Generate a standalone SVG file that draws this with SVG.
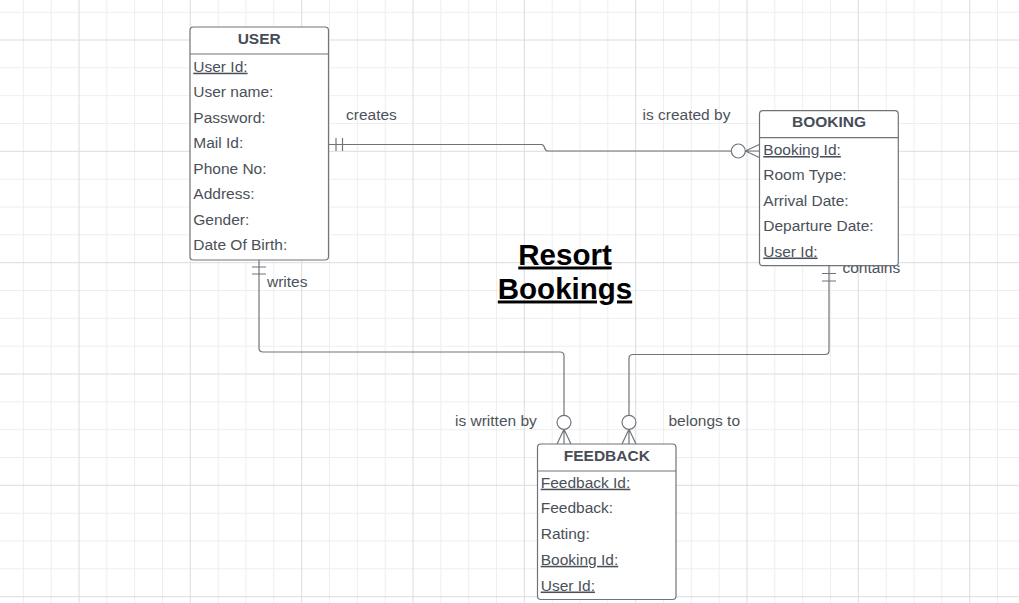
<svg xmlns="http://www.w3.org/2000/svg" width="1019" height="603" viewBox="0 0 1019 603">
<defs>
<style>
.minor{stroke:#eeeeee;stroke-width:1;fill:none}
.major{stroke:#dcdcdc;stroke-width:1;fill:none}
.box{fill:#ffffff;stroke:#6f747b;stroke-width:1.2}
.sep{stroke:#6f747b;stroke-width:1.2}
.hdr{font-family:"Liberation Sans",Arial,sans-serif;font-size:15.5px;font-weight:bold;fill:#474d56;text-anchor:middle}
.att{font-family:"Liberation Sans",Arial,sans-serif;font-size:15.5px;fill:#4a5059}
.key{text-decoration:underline}
.lbl{font-family:"Liberation Sans",Arial,sans-serif;font-size:15.5px;fill:#4d535b}
.ln{fill:none;stroke:#6f747b;stroke-width:1.2}
.crc{fill:#ffffff;stroke:#6f747b;stroke-width:1.2}
.title{font-family:"Liberation Sans",Arial,sans-serif;font-size:29.5px;font-weight:bold;fill:#000000;text-anchor:middle;text-decoration:underline}
</style>
</defs>
<rect width="1019" height="603" fill="#ffffff"/>
<g id="grid">
<path class="minor" d="M23.3 0V603M51.2 0V603M106.8 0V603M134.7 0V603M162.5 0V603M218.2 0V603M246 0V603M273.8 0V603M329.5 0V603M357.3 0V603M385.2 0V603M440.8 0V603M468.7 0V603M496.5 0V603M552.2 0V603M580 0V603M607.8 0V603M663.5 0V603M691.3 0V603M719.2 0V603M774.8 0V603M802.7 0V603M830.5 0V603M886.2 0V603M914 0V603M941.8 0V603M997.5 0V603M0 12.2H1019M0 67.8H1019M0 95.7H1019M0 123.5H1019M0 179.2H1019M0 207H1019M0 234.8H1019M0 290.5H1019M0 318.3H1019M0 346.2H1019M0 401.8H1019M0 429.7H1019M0 457.5H1019M0 513.2H1019M0 541H1019M0 568.8H1019"/>
<path class="major" d="M79 0V603M190.3 0V603M301.7 0V603M413 0V603M524.3 0V603M635.7 0V603M747 0V603M858.3 0V603M969.7 0V603M0 40H1019M0 151.3H1019M0 262.7H1019M0 374H1019M0 485.3H1019M0 596.7H1019"/>
</g>
<g id="connectors">
<path class="ln" d="M328.5 144.5H541.5Q543.5 144.5 544.5 147.5Q545.5 151 548 151H731.3"/>
<path class="ln" d="M336 138V151M342.5 138V151"/>
<circle class="crc" cx="738.3" cy="151" r="7"/>
<path class="ln" d="M745.3 151L759.3 144.5M745.3 151H759.3M745.3 151L759.3 157.5"/>
<path class="ln" d="M259 260V348Q259 352 263 352H560Q564 352 564 356V415.3"/>
<path class="ln" d="M252 267H266M252 274H266"/>
<circle class="crc" cx="564" cy="422.3" r="7"/>
<path class="ln" d="M564 429.3L557 444M564 429.3V444M564 429.3L571 444"/>
<path class="ln" d="M829 265.7V350.5Q829 354.5 825 354.5H633Q629 354.5 629 358.5V415.3"/>
<path class="ln" d="M822 273.5H836M822 281H836"/>
<circle class="crc" cx="629" cy="422.3" r="7"/>
<path class="ln" d="M629 429.3L622 444M629 429.3V444M629 429.3L636 444"/>
<text class="lbl" x="346" y="120">creates</text>
<text class="lbl" x="642.5" y="120">is created by</text>
<text class="lbl" x="267" y="287">writes</text>
<text class="lbl" x="842.5" y="273">contains</text>
<text class="lbl" x="455" y="426">is written by</text>
<text class="lbl" x="668.5" y="426">belongs to</text>
</g>
<g id="user">
<rect class="box" x="190" y="27" width="138.5" height="233" rx="3.5"/>
<line class="sep" x1="190" y1="54" x2="328.5" y2="54"/>
<text class="hdr" x="259.2" y="44">USER</text>
<text class="att key" x="193.3" y="71.7">User Id:</text>
<text class="att" x="193.3" y="97.2">User name:</text>
<text class="att" x="193.3" y="122.7">Password:</text>
<text class="att" x="193.3" y="148.2">Mail Id:</text>
<text class="att" x="193.3" y="173.7">Phone No:</text>
<text class="att" x="193.3" y="199.2">Address:</text>
<text class="att" x="193.3" y="224.7">Gender:</text>
<text class="att" x="193.3" y="250.4">Date Of Birth:</text>
</g>
<g id="booking">
<rect class="box" x="759.5" y="110.7" width="138.8" height="155" rx="3.5"/>
<line class="sep" x1="759.5" y1="137.7" x2="898.3" y2="137.7"/>
<text class="hdr" x="829" y="127.3">BOOKING</text>
<text class="att key" x="763.3" y="155">Booking Id:</text>
<text class="att" x="763.3" y="180.3">Room Type:</text>
<text class="att" x="763.3" y="205.6">Arrival Date:</text>
<text class="att" x="763.3" y="231">Departure Date:</text>
<text class="att key" x="763.3" y="256.5">User Id:</text>
</g>
<g id="feedback">
<rect class="box" x="537.5" y="444" width="138.5" height="155.5" rx="3.5"/>
<line class="sep" x1="537.5" y1="471" x2="676" y2="471"/>
<text class="hdr" x="606.8" y="460.7">FEEDBACK</text>
<text class="att key" x="540.7" y="487.7">Feedback Id:</text>
<text class="att" x="540.7" y="513.3">Feedback:</text>
<text class="att" x="540.7" y="539">Rating:</text>
<text class="att key" x="540.7" y="564.8">Booking Id:</text>
<text class="att key" x="540.7" y="590.5">User Id:</text>
</g>
<g id="title">
<text class="title" x="565" y="264.5">Resort</text>
<text class="title" x="565" y="298.5">Bookings</text>
</g>
</svg>
